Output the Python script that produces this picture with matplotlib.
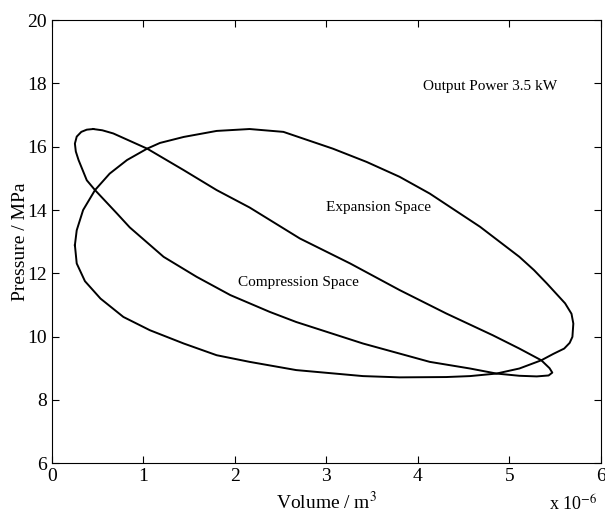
import matplotlib
matplotlib.use('Agg')
import matplotlib.pyplot as plt
import numpy as np

plt.rcParams['font.family'] = 'Liberation Serif'
plt.rcParams['mathtext.fontset'] = 'stix'

# expansion space loop, volume in 1e-6 m^3, pressure in MPa
v_exp = [0.25, 0.27, 0.34, 0.47, 0.63, 0.82, 1.04, 1.18, 1.44, 1.80, 2.16, 2.53,
         3.07, 3.44, 3.80, 4.13, 4.68, 5.11, 5.27, 5.41, 5.61, 5.68, 5.70, 5.69,
         5.66, 5.60, 5.48, 5.35, 5.11, 4.86, 4.57, 4.31, 3.80, 3.40, 2.67, 2.16,
         1.80, 1.44, 1.07, 0.78, 0.53, 0.36, 0.27, 0.25]
p_exp = [12.89, 13.36, 14.00, 14.63, 15.15, 15.58, 15.94, 16.12, 16.31, 16.50, 16.56, 16.47,
         15.94, 15.52, 15.05, 14.52, 13.47, 12.52, 12.10, 11.68, 11.05, 10.72, 10.41, 9.99,
         9.80, 9.62, 9.45, 9.25, 8.99, 8.83, 8.75, 8.72, 8.71, 8.75, 8.94, 9.20,
         9.41, 9.78, 10.20, 10.62, 11.20, 11.75, 12.31, 12.89]

# compression space loop
v_comp = [0.45, 0.55, 0.67, 1.04, 1.44, 1.80, 2.16, 2.71, 3.26, 3.80, 4.31, 4.82,
          5.11, 5.35, 5.44, 5.47, 5.43, 5.30, 5.11, 4.86, 4.57, 4.13, 3.40, 2.67,
          2.38, 1.95, 1.58, 1.22, 0.85, 0.71, 0.47, 0.38, 0.29, 0.26, 0.25, 0.27,
          0.32, 0.38, 0.45]
p_comp = [16.56, 16.52, 16.42, 15.94, 15.26, 14.63, 14.08, 13.10, 12.31, 11.47, 10.73, 10.04,
          9.62, 9.25, 9.00, 8.86, 8.77, 8.74, 8.76, 8.83, 8.99, 9.20, 9.78, 10.46,
          10.78, 11.31, 11.89, 12.52, 13.45, 13.89, 14.63, 14.94, 15.58, 15.85, 16.10, 16.32,
          16.47, 16.54, 16.56]

fig = plt.figure(figsize=(6.05, 5.18), dpi=100)
ax = fig.add_axes([0.086, 0.106, 0.907, 0.855])

ax.plot(v_exp, p_exp, color='black', lw=1.4, solid_joinstyle='round')
ax.plot(v_comp, p_comp, color='black', lw=1.4, solid_joinstyle='round')

ax.text(4.79, 17.91, 'Output Power 3.5 kW', fontsize=11, ha='center', va='center')
ax.text(3.57, 14.09, 'Expansion Space', fontsize=11, ha='center', va='center')
ax.text(2.69, 11.72, 'Compression Space', fontsize=11, ha='center', va='center')

ax.set_xlim(0, 6)
ax.set_ylim(6, 20)
ax.set_xticks(np.arange(0, 7, 1))
ax.set_yticks(np.arange(6, 21, 2))
ax.tick_params(direction='in', top=True, right=True, length=5, labelsize=14, width=0.8)
for s in ax.spines.values():
    s.set_linewidth(0.8)

ax.set_xlabel('Volume / m$^3$', fontsize=14, labelpad=4)
ax.set_ylabel('Pressure / MPa', fontsize=14, labelpad=-1)
fig.text(0.988, 0.026, r'x 10$^{-6}$', fontsize=13, ha='right', va='center')

fig.savefig('out.png', dpi=100)
